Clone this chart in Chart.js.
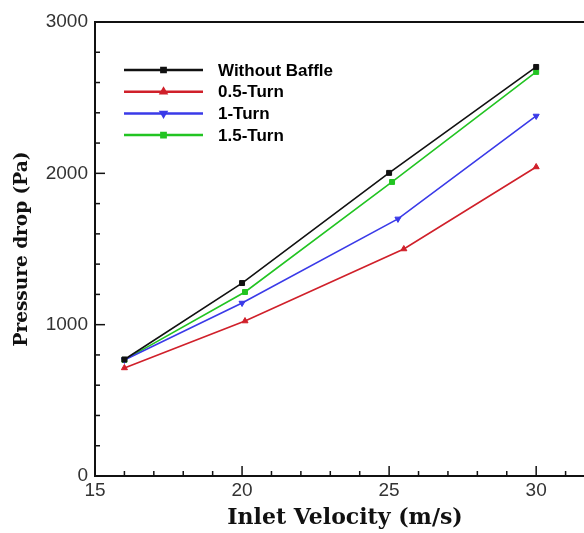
<!DOCTYPE html>
<html>
<head>
<meta charset="utf-8">
<script src="https://cdn.jsdelivr.net/npm/chart.js@4/dist/chart.umd.min.js"></script>
<style>
  html, body { margin: 0; padding: 0; background: #fff; overflow: hidden; }
  #wrap { width: 584px; height: 533px; overflow: hidden; }
</style>
</head>
<body>
<div id="wrap"><canvas id="chart" width="600" height="533"></canvas></div>
<script>
// values
const seriesNames = ['Without Baffle', '0.5-Turn', '1-Turn', '1.5-Turn'];

const xWithout = [16, 20, 25, 30];
const yWithout = [770, 1275, 2003, 2703];

const xHalf = [16, 20.1, 25.5, 30];
const yHalf = [714, 1024, 1500, 2042];

const xOne = [16, 20, 25.3, 30];
const yOne = [767, 1143, 1699, 2379];

const xOneHalf = [16, 20.1, 25.1, 30];
const yOneHalf = [767, 1216, 1943, 2670];

const xTicks = [15, 20, 25, 30];
const yTicks = [0, 1000, 2000, 3000];

function pts(xs, ys) {
    return xs.map((x, i) => ({ x: x, y: ys[i] }));
}

const tickFont = { family: 'Liberation Sans', size: 19 };

// inward ticks, top frame line and the legend box inside the plot
const frame = {
    id: 'frame',
    afterDraw(chart) {
        const ctx = chart.ctx;
        const a = chart.chartArea;
        const xs = chart.scales.x, ys = chart.scales.y;
        ctx.save();
        ctx.strokeStyle = '#111';
        ctx.lineWidth = 2;
        ctx.beginPath();
        ctx.moveTo(a.left - 1, a.top);
        ctx.lineTo(chart.width, a.top);
        ctx.stroke();

        ctx.lineWidth = 1.5;
        for (let v = xs.min; v <= xs.max; v += 1) {
            const p = xs.getPixelForValue(v);
            const len = v % 5 === 0 ? 10 : 5;
            ctx.beginPath();
            ctx.moveTo(p, a.bottom);
            ctx.lineTo(p, a.bottom - len);
            ctx.stroke();
        }
        for (let v = ys.min; v <= ys.max; v += 200) {
            const p = ys.getPixelForValue(v);
            const len = v % 1000 === 0 ? 10 : 5;
            ctx.beginPath();
            ctx.moveTo(a.left, p);
            ctx.lineTo(a.left + len, p);
            ctx.stroke();
        }

        // legend
        ctx.font = 'bold 17px "Liberation Sans"';
        ctx.textBaseline = 'middle';
        chart.data.datasets.forEach((ds, i) => {
            const y = a.top + 48 + i * 21.7;
            const x0 = a.left + 29, x1 = a.left + 108;
            ctx.strokeStyle = ds.borderColor;
            ctx.fillStyle = ds.borderColor;
            ctx.lineWidth = 2.5;
            ctx.beginPath();
            ctx.moveTo(x0, y);
            ctx.lineTo(x1, y);
            ctx.stroke();
            Chart.helpers.drawPoint(ctx, {
                pointStyle: ds.pointStyle,
                radius: 3,
                rotation: ds.pointRotation || 0,
                borderWidth: 1
            }, (x0 + x1) / 2, y);
            ctx.fillStyle = '#000';
            ctx.fillText(ds.label, a.left + 123, y + 1);
        });
        ctx.restore();
    }
};

const colors = ['#111111', '#d0202a', '#3a3ae8', '#22c422'];
const styles = ['rect', 'triangle', 'triangle', 'rect'];
const rotations = [0, 0, 180, 0];
const dataPts = [pts(xWithout, yWithout), pts(xHalf, yHalf), pts(xOne, yOne), pts(xOneHalf, yOneHalf)];

const ctx = document.getElementById('chart').getContext('2d');
const myChart = new Chart(ctx, {
    type: 'line',
    data: {
        datasets: seriesNames.map((name, i) => ({
            label: name,
            data: dataPts[i],
            borderColor: colors[i],
            backgroundColor: colors[i],
            borderWidth: 1.6,
            pointStyle: styles[i],
            pointRotation: rotations[i],
            pointRadius: 3.5,
            pointBorderWidth: 1,
            pointBorderColor: colors[i],
            pointBackgroundColor: colors[i],
            tension: 0
        }))
    },
    options: {
        responsive: false,
        animation: false,
        devicePixelRatio: 1,
        layout: { padding: { top: 22, right: 5, left: 0, bottom: 0 } },
        plugins: { legend: { display: false }, tooltip: { enabled: false } },
        scales: {
            x: {
                type: 'linear',
                min: 15,
                max: 32,
                afterBuildTicks: s => { s.ticks = xTicks.map(v => ({ value: v })); },
                afterFit: s => { s.height = 57; },
                grid: { display: false, drawTicks: false },
                border: { display: true, color: '#111', width: 2 },
                ticks: { font: tickFont, color: '#333', padding: 3, maxRotation: 0, callback: v => String(v) },
                title: { display: true, text: 'Inlet Velocity (m/s)', font: { family: 'DejaVu Serif', size: 22, weight: 'bold' }, color: '#111', padding: { top: 0, bottom: 2 } }
            },
            y: {
                min: 0,
                max: 3000,
                afterBuildTicks: s => { s.ticks = yTicks.map(v => ({ value: v })); },
                afterFit: s => { s.width = 95; },
                grid: { display: false, drawTicks: false },
                border: { display: true, color: '#111', width: 2 },
                ticks: { font: tickFont, color: '#333', padding: 7, callback: v => String(v) },
                title: { display: true, text: 'Pressure drop (Pa)', font: { family: 'DejaVu Serif', size: 18.5, weight: 'bold' }, color: '#111', padding: { top: 11, bottom: 0 } }
            }
        }
    },
    plugins: [frame]
});
</script>
</body>
</html>
